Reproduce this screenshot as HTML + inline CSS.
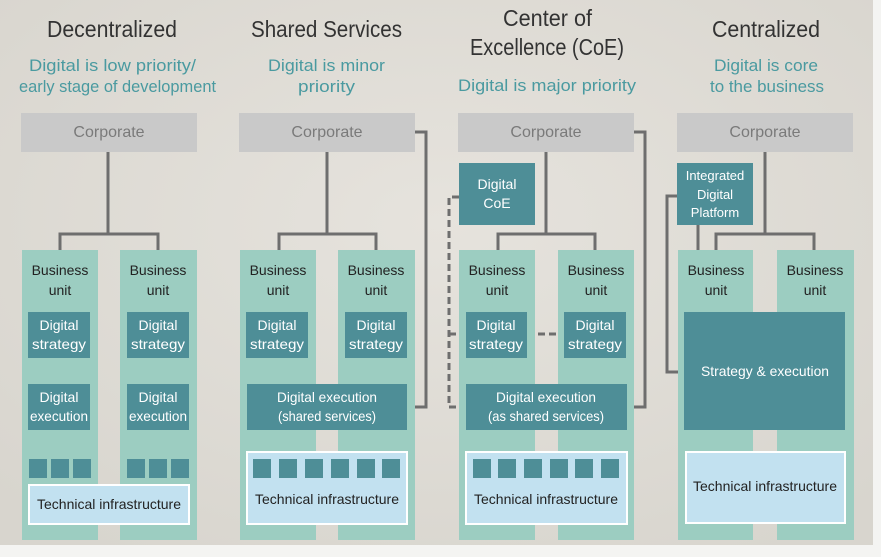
<!DOCTYPE html>
<html><head><meta charset="utf-8"><style>
html,body{margin:0;padding:0;background:#e2dfd9;}
svg{display:block}
text{font-family:"Liberation Sans Narrow","Liberation Sans",sans-serif;}
</style></head><body>
<svg width="881" height="557" viewBox="0 0 881 557" xmlns="http://www.w3.org/2000/svg">
<defs>
<radialGradient id="bg" cx="50%" cy="40%" r="70%"><stop offset="0" stop-color="#e6e3dd"/><stop offset="1" stop-color="#d8d5ce"/></radialGradient>
</defs>
<rect width="881" height="557" fill="url(#bg)"/>
<rect x="0" y="545" width="881" height="12" fill="#f4f4f2"/>
<rect x="873" y="0" width="8" height="557" fill="#f4f4f2"/>

<g fill="#333" font-size="23">
<text x="47" y="37" textLength="130" lengthAdjust="spacingAndGlyphs">Decentralized</text>
<text x="251" y="37" textLength="151" lengthAdjust="spacingAndGlyphs">Shared Services</text>
<text x="503" y="26" textLength="89" lengthAdjust="spacingAndGlyphs">Center of</text>
<text x="470" y="55" textLength="154" lengthAdjust="spacingAndGlyphs">Excellence (CoE)</text>
<text x="712" y="37" textLength="108" lengthAdjust="spacingAndGlyphs">Centralized</text>
</g>
<g fill="#4a9aa0" font-size="17">
<text x="29" y="71" textLength="167" lengthAdjust="spacingAndGlyphs">Digital is low priority/</text>
<text x="19" y="92" textLength="197" lengthAdjust="spacingAndGlyphs">early stage of development</text>
<text x="268" y="71" textLength="117" lengthAdjust="spacingAndGlyphs">Digital is minor</text>
<text x="298" y="92" textLength="57" lengthAdjust="spacingAndGlyphs">priority</text>
<text x="458" y="91" textLength="178" lengthAdjust="spacingAndGlyphs">Digital is major priority</text>
<text x="714" y="71" textLength="104" lengthAdjust="spacingAndGlyphs">Digital is core</text>
<text x="710" y="92" textLength="114" lengthAdjust="spacingAndGlyphs">to the business</text>
</g>

<g fill="#c9c9c9">
<rect x="21" y="113" width="176" height="39"/>
<rect x="239" y="113" width="176" height="39"/>
<rect x="458" y="113" width="176" height="39"/>
<rect x="677" y="113" width="176" height="39"/>
</g>
<g fill="#7a7a7a" font-size="16" text-anchor="middle">
<text x="109" y="137">Corporate</text>
<text x="327" y="137">Corporate</text>
<text x="546" y="137">Corporate</text>
<text x="765" y="137">Corporate</text>
</g>

<g stroke="#6e6e6e" stroke-width="3" fill="none">
<path d="M108 152V234M60 250V234H158V250"/>
<path d="M327 152V234M279 250V234H376V250"/>
<path d="M415 132H426V407H408"/>
<path d="M546 152V234M498 250V234H595V250"/>
<path d="M634 132H645V407H627"/>
<path d="M765 152V234M716 250V234H814V250"/>
<path d="M698 225V250"/>
<path d="M677 196H667V372H684"/>
</g>
<g stroke="#6e6e6e" stroke-width="3" fill="none" stroke-dasharray="7,4">
<path d="M459 197H449V407H466"/>
<path d="M449 334H466"/>
<path d="M527 334H564"/>
</g>

<g fill="#9ccdc1">
<rect x="22" y="250" width="76" height="290"/>
<rect x="120" y="250" width="77" height="290"/>
<rect x="240" y="250" width="76" height="290"/>
<rect x="338" y="250" width="77" height="290"/>
<rect x="459" y="250" width="76" height="290"/>
<rect x="558" y="250" width="76" height="290"/>
<rect x="678" y="250" width="75" height="290"/>
<rect x="777" y="250" width="77" height="290"/>
</g>
<g fill="#222" font-size="14" text-anchor="middle">
<text x="60" y="275">Business</text><text x="60" y="295">unit</text>
<text x="158" y="275">Business</text><text x="158" y="295">unit</text>
<text x="278" y="275">Business</text><text x="278" y="295">unit</text>
<text x="376" y="275">Business</text><text x="376" y="295">unit</text>
<text x="497" y="275">Business</text><text x="497" y="295">unit</text>
<text x="596" y="275">Business</text><text x="596" y="295">unit</text>
<text x="716" y="275">Business</text><text x="716" y="295">unit</text>
<text x="815" y="275">Business</text><text x="815" y="295">unit</text>
</g>

<g fill="#4e8e97">
<rect x="28" y="312" width="62" height="46"/>
<rect x="127" y="312" width="62" height="46"/>
<rect x="28" y="384" width="62" height="46"/>
<rect x="127" y="384" width="62" height="46"/>
<rect x="246" y="312" width="62" height="46"/>
<rect x="345" y="312" width="62" height="46"/>
<rect x="247" y="384" width="160" height="46"/>
<rect x="459" y="163" width="76" height="62"/>
<rect x="466" y="312" width="61" height="46"/>
<rect x="564" y="312" width="62" height="46"/>
<rect x="466" y="384" width="161" height="46"/>
<rect x="677" y="163" width="76" height="62"/>
<rect x="684" y="312" width="161" height="118"/>
<rect x="29" y="459" width="18" height="19"/><rect x="51" y="459" width="18" height="19"/><rect x="73" y="459" width="18" height="19"/>
<rect x="127" y="459" width="18" height="19"/><rect x="149" y="459" width="18" height="19"/><rect x="171" y="459" width="18" height="19"/>
</g>
<g fill="#fff" font-size="14" text-anchor="middle">
<text x="59" y="330">Digital</text><text x="59" y="349" textLength="54" lengthAdjust="spacingAndGlyphs">strategy</text>
<text x="158" y="330">Digital</text><text x="158" y="349" textLength="54" lengthAdjust="spacingAndGlyphs">strategy</text>
<text x="59" y="402">Digital</text><text x="59" y="421" textLength="58" lengthAdjust="spacingAndGlyphs">execution</text>
<text x="158" y="402">Digital</text><text x="158" y="421" textLength="58" lengthAdjust="spacingAndGlyphs">execution</text>
<text x="277" y="330">Digital</text><text x="277" y="349" textLength="54" lengthAdjust="spacingAndGlyphs">strategy</text>
<text x="376" y="330">Digital</text><text x="376" y="349" textLength="54" lengthAdjust="spacingAndGlyphs">strategy</text>
<text x="327" y="402" textLength="100" lengthAdjust="spacingAndGlyphs">Digital execution</text><text x="327" y="421" textLength="98" lengthAdjust="spacingAndGlyphs">(shared services)</text>
<text x="497" y="189">Digital</text><text x="497" y="208">CoE</text>
<text x="496" y="330">Digital</text><text x="496" y="349" textLength="54" lengthAdjust="spacingAndGlyphs">strategy</text>
<text x="595" y="330">Digital</text><text x="595" y="349" textLength="54" lengthAdjust="spacingAndGlyphs">strategy</text>
<text x="546" y="402" textLength="100" lengthAdjust="spacingAndGlyphs">Digital execution</text><text x="546" y="421" textLength="116" lengthAdjust="spacingAndGlyphs">(as shared services)</text>
<text x="715" y="180" font-size="13">Integrated</text><text x="715" y="199" font-size="13">Digital</text><text x="715" y="217" font-size="13">Platform</text>
<text x="765" y="376" textLength="128" lengthAdjust="spacingAndGlyphs">Strategy &amp; execution</text>
</g>

<g fill="#c2e1f0" stroke="#fff" stroke-width="2">
<rect x="29" y="485" width="160" height="39"/>
<rect x="247" y="452" width="160" height="72"/>
<rect x="466" y="452" width="161" height="72"/>
<rect x="686" y="452" width="159" height="71"/>
</g>
<g fill="#4e8e97">
<rect x="253" y="459" width="18" height="19"/><rect x="279" y="459" width="18" height="19"/><rect x="305" y="459" width="18" height="19"/><rect x="331" y="459" width="18" height="19"/><rect x="357" y="459" width="18" height="19"/><rect x="382" y="459" width="18" height="19"/>
<rect x="473" y="459" width="18" height="19"/><rect x="498" y="459" width="18" height="19"/><rect x="524" y="459" width="18" height="19"/><rect x="550" y="459" width="18" height="19"/><rect x="575" y="459" width="18" height="19"/><rect x="601" y="459" width="18" height="19"/>
</g>
<g fill="#222" font-size="14" text-anchor="middle">
<text x="109" y="509" textLength="144" lengthAdjust="spacingAndGlyphs">Technical infrastructure</text>
<text x="327" y="504" textLength="144" lengthAdjust="spacingAndGlyphs">Technical infrastructure</text>
<text x="546" y="504" textLength="144" lengthAdjust="spacingAndGlyphs">Technical infrastructure</text>
<text x="765" y="491" textLength="144" lengthAdjust="spacingAndGlyphs">Technical infrastructure</text>
</g>
</svg>
</body></html>
